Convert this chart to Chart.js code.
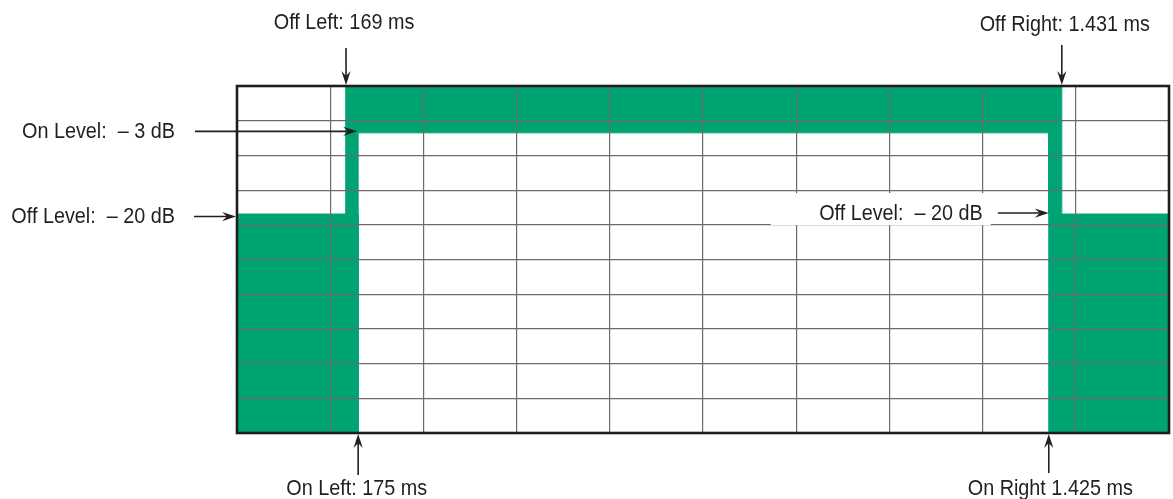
<!DOCTYPE html>
<html><head><meta charset="utf-8">
<script src="https://cdn.jsdelivr.net/npm/chart.js@4"></script>
<style>html,body{margin:0;padding:0;background:#fff}#wrap{width:1173px;height:499px;position:relative}</style>
</head><body><div id="wrap"><canvas id="c"></canvas></div>
<script>
// Units: x = horizontal graticule divisions (0..10), y = vertical divisions (0 bottom .. 10 top)
const xTicks = [0, 1, 2, 3, 4, 5, 6, 7, 8, 9, 10];
const yTicks = [0, 1, 2, 3, 4, 5, 6, 7, 8, 9, 10];
const upperMaskX = [1.17, 1.17, 1.30, 1.30, 8.71, 8.71, 8.85, 8.85];
const upperMaskY = [10, 6.31, 6.31, 8.65, 8.65, 6.31, 6.31, 10];
const lowerMaskX = [0, 1.30, 1.30, 8.71, 8.71, 10];
const lowerMaskY = [6.31, 6.31, 0, 0, 6.31, 6.31];
const labelTexts = ['Off Left: 169 ms', 'Off Right: 1.431 ms', 'On Level:  \u2013 3 dB',
  'Off Level:  \u2013 20 dB', 'Off Level:  \u2013 20 dB', 'On Left: 175 ms', 'On Right 1.425 ms'];

const GREEN = '#00a473';
const TEXT = '#231f20';
const FONT = '22px "Liberation Sans", Arial, sans-serif';
const CONDENSE = 0.9;

function pts(xs, ys) { return xs.map((x, i) => ({ x: x, y: ys[i] })); }

function arrow(ctx, x1, y1, x2, y2) {
  const ang = Math.atan2(y2 - y1, x2 - x1);
  const L = 14, W = 4.6, N = 9;
  ctx.save();
  ctx.strokeStyle = TEXT; ctx.fillStyle = TEXT; ctx.lineWidth = 1.6;
  ctx.beginPath();
  ctx.moveTo(x1, y1);
  ctx.lineTo(x2 - Math.cos(ang) * N, y2 - Math.sin(ang) * N);
  ctx.stroke();
  ctx.translate(x2, y2); ctx.rotate(ang);
  ctx.beginPath();
  ctx.moveTo(0, 0); ctx.lineTo(-L, -W); ctx.lineTo(-N, 0); ctx.lineTo(-L, W); ctx.closePath();
  ctx.fill();
  ctx.restore();
}

function label(ctx, text, x, y, align) {
  ctx.save();
  ctx.font = FONT; ctx.fillStyle = TEXT; ctx.textBaseline = 'alphabetic';
  ctx.textAlign = align;
  ctx.translate(x, y); ctx.scale(CONDENSE, 1);
  ctx.fillText(text, 0, 0);
  ctx.restore();
}

const annotate = {
  id: 'annotate',
  afterDraw(chart) {
    const ctx = chart.ctx, xs = chart.scales.x, ys = chart.scales.y, a = chart.chartArea;
    // frame
    ctx.save();
    ctx.strokeStyle = '#1e1e1e'; ctx.lineWidth = 2.6;
    ctx.strokeRect(a.left, a.top, a.right - a.left, a.bottom - a.top);
    ctx.restore();

    const offLeftX = xs.getPixelForValue(upperMaskX[0]);
    const offRightX = xs.getPixelForValue(upperMaskX[7]);
    const onLeftX = xs.getPixelForValue(lowerMaskX[1]);
    const onRightX = xs.getPixelForValue(lowerMaskX[3]);
    const onLevelY = ys.getPixelForValue(upperMaskY[3]);
    const offLevelY = ys.getPixelForValue(lowerMaskY[0]);

    // white box behind right Off Level label
    ctx.save();
    ctx.fillStyle = '#ffffff';
    ctx.fillRect(onRightX - 278, offLevelY - 21, 220, 32);
    ctx.restore();

    label(ctx, labelTexts[0], offLeftX - 2, 29, 'center');
    arrow(ctx, offLeftX, 48, offLeftX, a.top - 1);
    label(ctx, labelTexts[1], offRightX + 3, 31, 'center');
    arrow(ctx, offRightX, 45, offRightX, a.top - 1);

    label(ctx, labelTexts[2], 175, onLevelY + 5, 'right');
    arrow(ctx, 195, onLevelY - 1.5, onLeftX - 1, onLevelY - 1.5);
    label(ctx, labelTexts[3], 175, offLevelY + 9, 'right');
    arrow(ctx, 194, offLevelY + 2.5, a.left - 1, offLevelY + 2.5);
    label(ctx, labelTexts[4], onRightX - 66, offLevelY + 5.5, 'right');
    arrow(ctx, onRightX - 51, offLevelY - 1, onRightX, offLevelY - 1);

    label(ctx, labelTexts[5], onLeftX - 1.5, 495, 'center');
    arrow(ctx, onLeftX, 475, onLeftX, a.bottom + 1);
    label(ctx, labelTexts[6], onRightX + 1.5, 495, 'center');
    arrow(ctx, onRightX, 473, onRightX, a.bottom + 1);
  }
};

const gridOpts = { color: '#6b6b6b', lineWidth: 1.2, drawTicks: false, z: 1 };

new Chart(document.getElementById('c'), {
  type: 'line',
  data: {
    datasets: [
      { data: pts(upperMaskX, upperMaskY), fill: 'end', backgroundColor: GREEN,
        borderColor: GREEN, borderWidth: 1, pointRadius: 0, tension: 0 },
      { data: pts(lowerMaskX, lowerMaskY), fill: 'start', backgroundColor: GREEN,
        borderColor: GREEN, borderWidth: 1, pointRadius: 0, tension: 0 }
    ]
  },
  options: {
    responsive: true, maintainAspectRatio: false, animation: false,
    layout: { padding: { left: 237, right: 4, top: 86, bottom: 66 } },
    plugins: { legend: { display: false }, tooltip: { enabled: false } },
    scales: {
      x: { type: 'linear', min: xTicks[0], max: xTicks[xTicks.length - 1],
           afterBuildTicks: s => { s.ticks = xTicks.map(v => ({ value: v })); },
           ticks: { display: false }, grid: gridOpts, border: { display: false } },
      y: { type: 'linear', min: yTicks[0], max: yTicks[yTicks.length - 1],
           afterBuildTicks: s => { s.ticks = yTicks.map(v => ({ value: v })); },
           ticks: { display: false }, grid: gridOpts, border: { display: false } }
    }
  },
  plugins: [annotate]
});
</script></body></html>
